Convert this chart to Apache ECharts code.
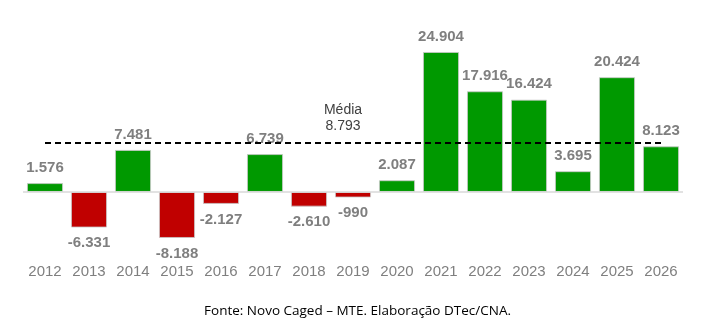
<!DOCTYPE html>
<html>
<head>
<meta charset="utf-8">
<script src="https://cdn.jsdelivr.net/npm/echarts@6/dist/echarts.min.js"></script>
<style>
  html, body { margin: 0; padding: 0; background: #ffffff; }
  #chart { width: 715px; height: 329px; }
</style>
</head>
<body>
<div id="chart"></div>
<script>
// Saldo anual de empregos (2012–2026)
const years = ['2012','2013','2014','2015','2016','2017','2018','2019','2020','2021','2022','2023','2024','2025','2026'];
const saldo = [1576, -6331, 7481, -8188, -2127, 6739, -2610, -990, 2087, 24904, 17916, 16424, 3695, 20424, 8123];
const media = 8793;
const fonte = 'Fonte: Novo Caged – MTE. Elaboração DTec/CNA.';

const GREEN = '#009900';
const RED = '#c00000';

function fmt(v) {
  const s = Math.abs(v).toString().replace(/\B(?=(\d{3})+(?!\d))/g, '.');
  return (v < 0 ? '-' : '') + s;
}

const chart = echarts.init(document.getElementById('chart'), null, { renderer: 'canvas' });

chart.setOption({
  animation: false,
  backgroundColor: '#ffffff',
  grid: { left: 23, right: 32, top: 34.6, bottom: 69.6, containLabel: false },
  xAxis: {
    type: 'category',
    data: years,
    axisLine: { show: false },
    axisTick: { show: false },
    axisLabel: {
      color: '#7f7f7f',
      fontSize: 15,
      fontFamily: 'Liberation Sans, Arial, sans-serif',
      margin: 5
    }
  },
  yAxis: {
    type: 'value',
    min: -12000,
    max: 28000,
    show: false,
    splitLine: { show: false }
  },
  title: {
    text: fonte,
    left: 'center',
    top: 299,
    textStyle: {
      fontFamily: 'Open Sans, sans-serif',
      fontWeight: 'normal',
      fontSize: 13.5,
      color: '#000000'
    }
  },
  series: [
    {
      type: 'bar',
      data: saldo.map(v => ({
        value: v,
        itemStyle: { color: v >= 0 ? GREEN : RED },
        label: { position: v >= 0 ? 'top' : 'bottom' }
      })),
      barCategoryGap: '18%',
      itemStyle: { borderColor: 'rgba(200,200,200,0.8)', borderWidth: 1 },
      label: {
        show: true,
        distance: 8,
        color: '#7f7f7f',
        fontSize: 15,
        fontWeight: 'bold',
        fontFamily: 'Liberation Sans, Arial, sans-serif',
        formatter: p => fmt(p.value)
      },
      z: 2
    },
    {
      // linha do zero (eixo) ao longo de toda a área do gráfico
      type: 'line',
      data: [],
      markLine: {
        silent: true,
        symbol: ['none', 'none'],
        lineStyle: { color: '#d9d9d9', width: 1.5, type: 'solid' },
        label: { show: false },
        data: [{ yAxis: 0 }]
      },
      z: 1
    },
    {
      // linha da média
      type: 'line',
      data: [],
      markLine: {
        silent: true,
        symbol: ['none', 'none'],
        lineStyle: { color: '#000000', width: 2, type: [6, 4] },
        label: {
          show: true,
          position: 'middle',
          distance: 8,
          padding: [0, 20, 0, 0],
          color: '#404040',
          fontSize: 14,
          lineHeight: 16,
          fontFamily: 'Liberation Sans, Arial, sans-serif',
          formatter: 'Média\n' + fmt(media)
        },
        data: [[
          { coord: [years[0], media] },
          { coord: [years[years.length - 1], media] }
        ]]
      },
      z: 3
    }
  ]
});
</script>
</body>
</html>
